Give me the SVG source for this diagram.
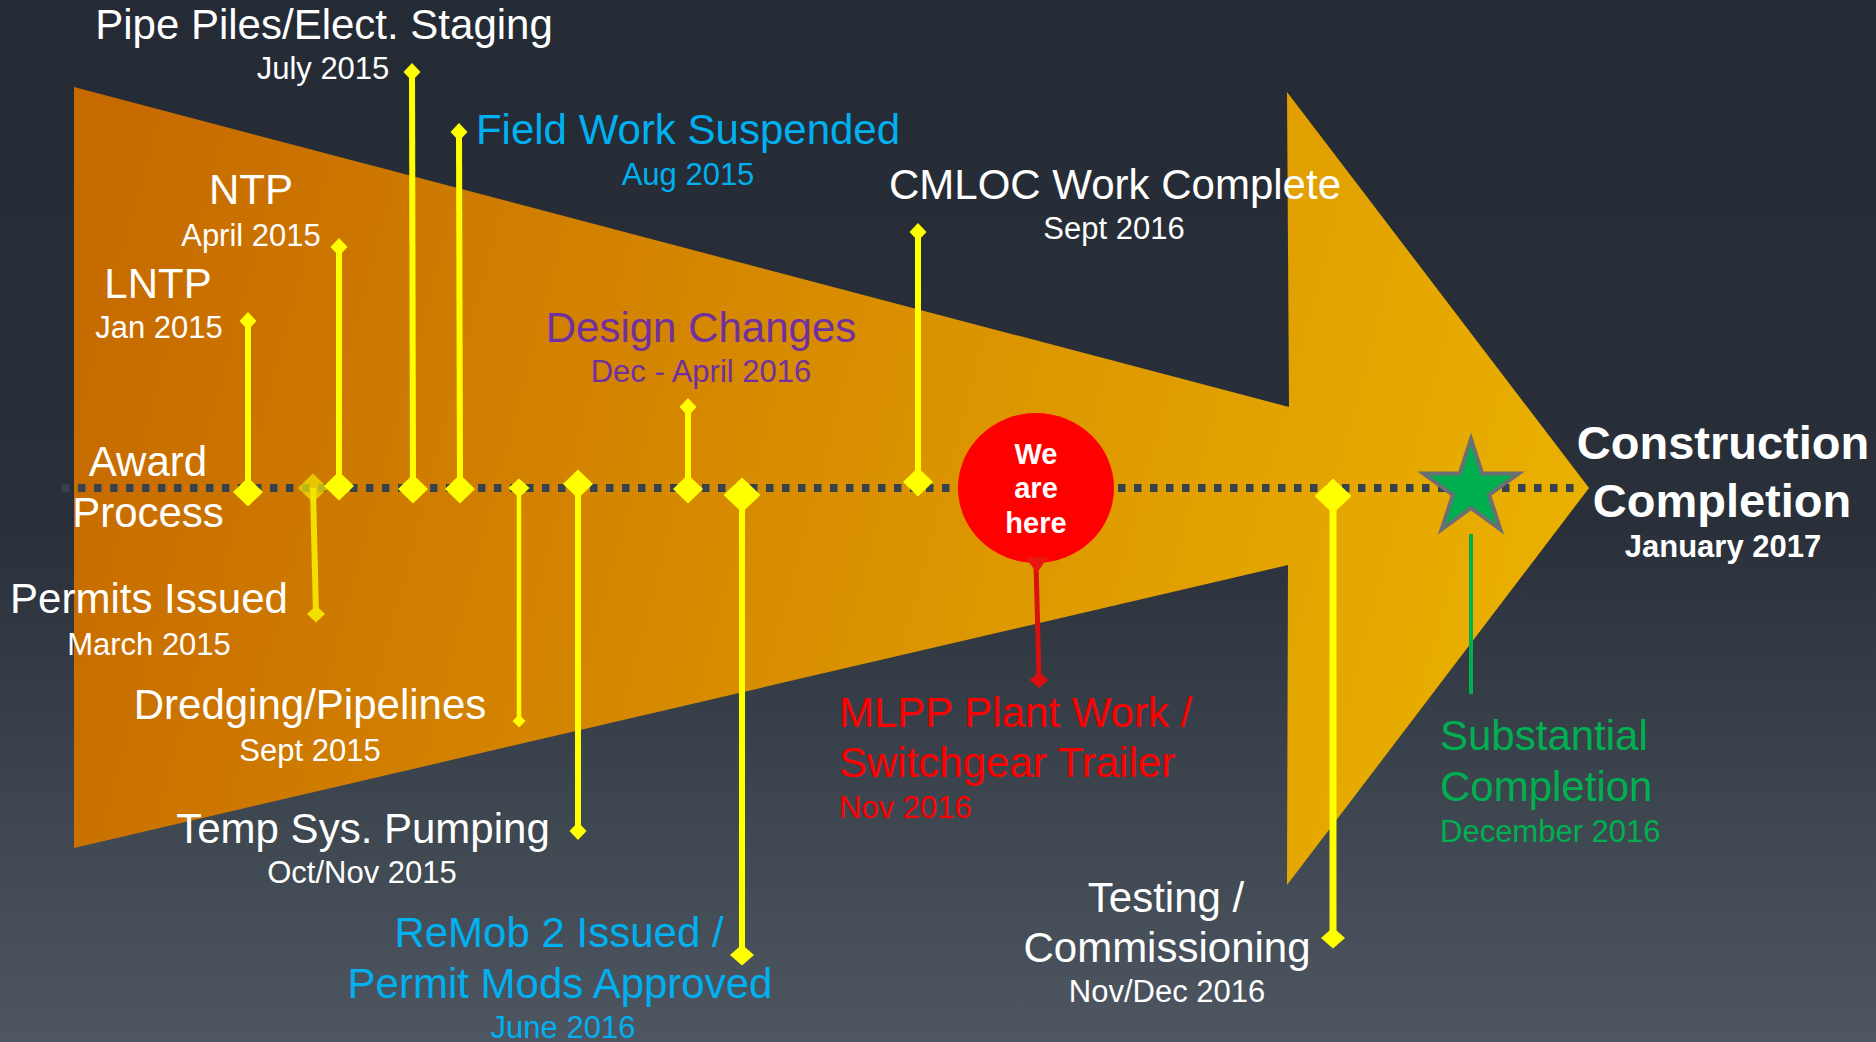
<svg xmlns="http://www.w3.org/2000/svg" width="1876" height="1042" viewBox="0 0 1876 1042">
<defs>
<linearGradient id="bg" x1="0" y1="0" x2="0" y2="1">
<stop offset="0" stop-color="#242b34"/>
<stop offset="0.5" stop-color="#29303a"/>
<stop offset="1" stop-color="#4e5761"/>
</linearGradient>
<linearGradient id="arrowFill" gradientUnits="userSpaceOnUse" x1="74" y1="300" x2="1590" y2="700">
<stop offset="0" stop-color="#c66a00"/>
<stop offset="0.5" stop-color="#d98f00"/>
<stop offset="1" stop-color="#ebb300"/>
</linearGradient>
<marker id="mS" viewBox="-1 -1 2 2" preserveAspectRatio="none" markerUnits="userSpaceOnUse" markerWidth="17" markerHeight="18" refX="0" refY="0" overflow="visible"><path d="M0-1L1 0 0 1-1 0z" fill="#ffff00"/></marker>
<marker id="mL" viewBox="-1 -1 2 2" preserveAspectRatio="none" markerUnits="userSpaceOnUse" markerWidth="30" markerHeight="29" refX="0" refY="0" overflow="visible"><path d="M0-1L1 0 0 1-1 0z" fill="#ffff00"/></marker>
<marker id="mXL" viewBox="-1 -1 2 2" preserveAspectRatio="none" markerUnits="userSpaceOnUse" markerWidth="37" markerHeight="35" refX="0" refY="0" overflow="visible"><path d="M0-1L1 0 0 1-1 0z" fill="#ffff00"/></marker>
<marker id="mM" viewBox="-1 -1 2 2" preserveAspectRatio="none" markerUnits="userSpaceOnUse" markerWidth="24" markerHeight="21" refX="0" refY="0" overflow="visible"><path d="M0-1L1 0 0 1-1 0z" fill="#ffff00"/></marker>
<marker id="mD" viewBox="-1 -1 2 2" preserveAspectRatio="none" markerUnits="userSpaceOnUse" markerWidth="21" markerHeight="19" refX="0" refY="0" overflow="visible"><path d="M0-1L1 0 0 1-1 0z" fill="#ffff00"/></marker>
<marker id="mT" viewBox="-1 -1 2 2" preserveAspectRatio="none" markerUnits="userSpaceOnUse" markerWidth="13" markerHeight="13" refX="0" refY="0" overflow="visible"><path d="M0-1L1 0 0 1-1 0z" fill="#ffff00"/></marker>
<marker id="mP" viewBox="-1 -1 2 2" preserveAspectRatio="none" markerUnits="userSpaceOnUse" markerWidth="30" markerHeight="29" refX="0" refY="0" overflow="visible"><path d="M0-1L1 0 0 1-1 0z" fill="#f2e400" fill-opacity="0.72"/></marker>
<marker id="mPs" viewBox="-1 -1 2 2" preserveAspectRatio="none" markerUnits="userSpaceOnUse" markerWidth="18" markerHeight="17" refX="0" refY="0" overflow="visible"><path d="M0-1L1 0 0 1-1 0z" fill="#f2e000"/></marker>
<marker id="mR" viewBox="-1 -1 2 2" preserveAspectRatio="none" markerUnits="userSpaceOnUse" markerWidth="19" markerHeight="16" refX="0" refY="0" overflow="visible"><path d="M0-1L1 0 0 1-1 0z" fill="#d81010"/></marker>
<style>
text{font-family:"Liberation Sans",Arial,sans-serif;}
.t{font-size:42px;}
.d{font-size:31px;}
.c{text-anchor:middle;}
.w{fill:#ffffff;}
.cy{fill:#00b0f0;}
.pu{fill:#7030a0;}
.rd{fill:#ff0000;}
.gr{fill:#00b050;}
.stem{fill:none;stroke:#ffff00;stroke-width:6;}
.tl{fill:none;stroke:#37424d;stroke-width:8;stroke-dasharray:7.5 8.5;}
.b{font-weight:bold;}
</style>
</defs>
<rect width="1876" height="1042" fill="url(#bg)"/>
<polygon id="arrow" points="74,87 1289,407 1287,92 1589,488 1287,885 1288,565 74,848" fill="url(#arrowFill)"/>

<g id="connectors">
<path class="tl" d="M62 488H1582"/>
<path class="stem" d="M248 321V492" marker-start="url(#mS)" marker-end="url(#mL)"/>
<path class="stem" d="M313 488L316 614" style="stroke:#f2e000" marker-start="url(#mP)" marker-end="url(#mPs)"/>
<path class="stem" d="M339 247V486" marker-start="url(#mS)" marker-end="url(#mL)"/>
<path class="stem" d="M412 72L413 489" marker-start="url(#mS)" marker-end="url(#mL)"/>
<path class="stem" d="M459 132L460 489" marker-start="url(#mS)" marker-end="url(#mL)"/>
<path class="stem" d="M519 488V721" style="stroke-width:4.5" marker-start="url(#mD)" marker-end="url(#mT)"/>
<path class="stem" d="M578 484V831" marker-start="url(#mL)" marker-end="url(#mS)"/>
<path class="stem" d="M688 407V489" marker-start="url(#mS)" marker-end="url(#mL)"/>
<path class="stem" d="M742 495V955" marker-start="url(#mXL)" marker-end="url(#mM)"/>
<path class="stem" d="M918 232V482" marker-start="url(#mS)" marker-end="url(#mL)"/>
<path class="stem" d="M1333 496V938" style="stroke-width:7" marker-start="url(#mXL)" marker-end="url(#mM)"/>
<path d="M1036 562L1039 680" fill="none" stroke="#d81010" stroke-width="5" marker-end="url(#mR)"/>
<path d="M1471 534V694" fill="none" stroke="#00b050" stroke-width="4"/>
</g>

<g id="n-pipe-piles">
<text class="t w c" x="324" y="39">Pipe Piles/Elect. Staging</text>
<text class="d w c" x="323" y="79">July 2015</text>
</g>
<g id="n-field-work">
<text class="t cy c" x="688" y="144">Field Work Suspended</text>
<text class="d cy c" x="688" y="185">Aug 2015</text>
</g>
<g id="n-ntp">
<text class="t w c" x="251" y="204">NTP</text>
<text class="d w c" x="251" y="246">April 2015</text>
</g>
<g id="n-lntp">
<text class="t w c" x="158" y="298">LNTP</text>
<text class="d w c" x="159" y="338">Jan 2015</text>
</g>
<g id="n-design">
<text class="t pu c" x="701" y="342">Design Changes</text>
<text class="d pu c" x="701" y="382">Dec - April 2016</text>
</g>
<g id="n-cmloc">
<text class="t w c" x="1115" y="199">CMLOC Work Complete</text>
<text class="d w c" x="1114" y="239">Sept 2016</text>
</g>
<g id="n-award">
<text class="t w c" x="148" y="476">Award</text>
<text class="t w c" x="148" y="527">Process</text>
</g>
<g id="n-permits">
<text class="t w c" x="149" y="613">Permits Issued</text>
<text class="d w c" x="149" y="655">March 2015</text>
</g>
<g id="n-dredging">
<text class="t w c" x="310" y="719">Dredging/Pipelines</text>
<text class="d w c" x="310" y="761">Sept 2015</text>
</g>
<g id="n-temp-sys">
<text class="t w c" x="363" y="843">Temp Sys. Pumping</text>
<text class="d w c" x="362" y="883">Oct/Nov 2015</text>
</g>
<g id="n-remob">
<text class="t cy c" x="559" y="947">ReMob 2 Issued /</text>
<text class="t cy c" x="560" y="998">Permit Mods Approved</text>
<text class="d cy c" x="563" y="1038">June 2016</text>
</g>
<g id="n-we-are-here">
<ellipse cx="1036" cy="488" rx="78" ry="75" fill="#ff0000"/>
<polygon points="1025,557 1048,557 1037,573" fill="#e8170f"/>
<text class="b w c" style="font-size:29px" x="1036" y="464">We</text>
<text class="b w c" style="font-size:29px" x="1036" y="498">are</text>
<text class="b w c" style="font-size:29px" x="1036" y="533">here</text>
</g>
<g id="n-mlpp">
<text class="t rd" x="839" y="727">MLPP Plant Work /</text>
<text class="t rd" x="839" y="777">Switchgear Trailer</text>
<text class="d rd" x="839" y="818">Nov 2016</text>
</g>
<g id="n-testing">
<text class="t w c" x="1166" y="912">Testing /</text>
<text class="t w c" x="1167" y="962">Commissioning</text>
<text class="d w c" x="1167" y="1002">Nov/Dec 2016</text>
</g>
<g id="n-substantial">
<polygon points="1471,439 1482.2,473.6 1518.6,473.5 1489.1,494.9 1500.4,529.5 1471,508 1441.6,529.5 1452.9,494.9 1423.4,473.5 1459.8,473.6" fill="#00b050" stroke="#6b6e73" stroke-width="4" stroke-linejoin="miter"/>
<text class="t gr" x="1440" y="750">Substantial</text>
<text class="t gr" x="1440" y="801">Completion</text>
<text class="d gr" x="1440" y="842">December 2016</text>
</g>
<g id="n-construction">
<text class="b w c" style="font-size:47px" x="1723" y="459">Construction</text>
<text class="b w c" style="font-size:47px" x="1722" y="517">Completion</text>
<text class="b w c" style="font-size:31px" x="1723" y="557">January 2017</text>
</g>
</svg>
